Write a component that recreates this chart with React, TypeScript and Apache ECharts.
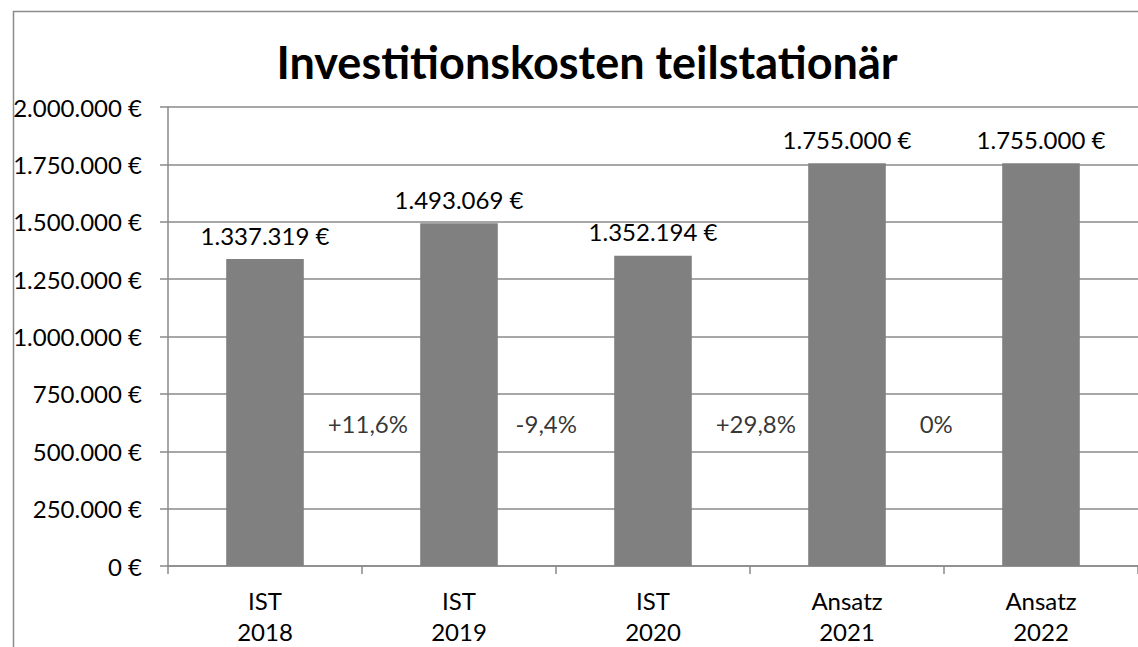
import React, { useEffect, useRef } from "react";
import * as echarts from "echarts";

const categories = ["IST\n2018", "IST\n2019", "IST\n2020", "Ansatz\n2021", "Ansatz\n2022"];
const values = [1337319, 1493069, 1352194, 1755000, 1755000];
const changeLabels = ["+11,6%", "-9,4%", "+29,8%", "0%"];
const changePositions = [1.03, 1.95, 3.03, 3.96];
const changeLevel = 620000;

const FONT = "Lato";

function fmt(v: number): string {
  const s = Math.round(v).toString().replace(/\B(?=(\d{3})+(?!\d))/g, ".");
  return s + " €";
}

export default function App() {
  const ref = useRef<HTMLDivElement>(null);
  useEffect(() => {
    if (!ref.current) return;
    const chart = echarts.init(ref.current, undefined, { renderer: "svg" });
    const gridColor = "#8a8a8a";
    chart.setOption({
      animation: false,
      backgroundColor: "#ffffff",
      textStyle: { fontFamily: FONT },
      title: {
        text: "Investitionskosten teilstationär",
        left: 582,
        textAlign: "center",
        top: 34,
        textStyle: { fontFamily: FONT, fontWeight: "bold", fontSize: 45, color: "#000" },
      },
      graphic: [
        {
          type: "rect",
          left: 11,
          top: 9,
          shape: { x: 0, y: 0, width: 1140, height: 700 },
          style: { fill: "none", stroke: "#8c8c8c", lineWidth: 1.5 },
          silent: true,
        },
      ],
      grid: { left: 168, top: 107, width: 971.5, height: 460, containLabel: false },
      xAxis: [
        {
          type: "category",
          data: categories,
          axisLine: { show: true, lineStyle: { color: gridColor, width: 1.5 } },
          axisTick: { show: true, length: 8, lineStyle: { color: gridColor, width: 1.5 } },
          axisLabel: { color: "#000", fontSize: 24, fontFamily: FONT, margin: 19, lineHeight: 31 },
        },
        {
          type: "value",
          min: 0,
          max: 5,
          show: false,
        },
      ],
      yAxis: {
        type: "value",
        min: 0,
        max: 2000000,
        interval: 250000,
        axisLine: { show: true, lineStyle: { color: gridColor, width: 1.5 } },
        axisTick: { show: true, length: 8, lineStyle: { color: gridColor, width: 1.5 } },
        splitLine: { show: true, lineStyle: { color: gridColor, width: 1.5 } },
        axisLabel: {
          color: "#000",
          fontSize: 24,
          fontFamily: FONT,
          margin: 26,
          formatter: (v: number) => fmt(v),
        },
      },
      series: [
        {
          type: "bar",
          data: values,
          barWidth: "40%",
          xAxisIndex: 0,
          itemStyle: { color: "#808080" },
          label: {
            show: true,
            position: "top",
            distance: 12,
            color: "#000",
            fontSize: 24,
            fontFamily: FONT,
            formatter: (p: any) => fmt(p.value),
          },
        },
        {
          type: "scatter",
          xAxisIndex: 1,
          symbolSize: 0,
          data: changePositions.map((x, i) => ({ value: [x, changeLevel], name: changeLabels[i] })),
          label: {
            show: true,
            position: "inside",
            color: "#000",
            fontSize: 24,
            fontFamily: FONT,
            formatter: (p: any) => p.name,
          },
          silent: true,
        },
      ],
    });
    return () => chart.dispose();
  }, []);
  return (
    <div
      ref={ref}
      style={{ position: "fixed", left: 0, top: 0, width: 1138, height: 647, background: "#fff" }}
    />
  );
}
